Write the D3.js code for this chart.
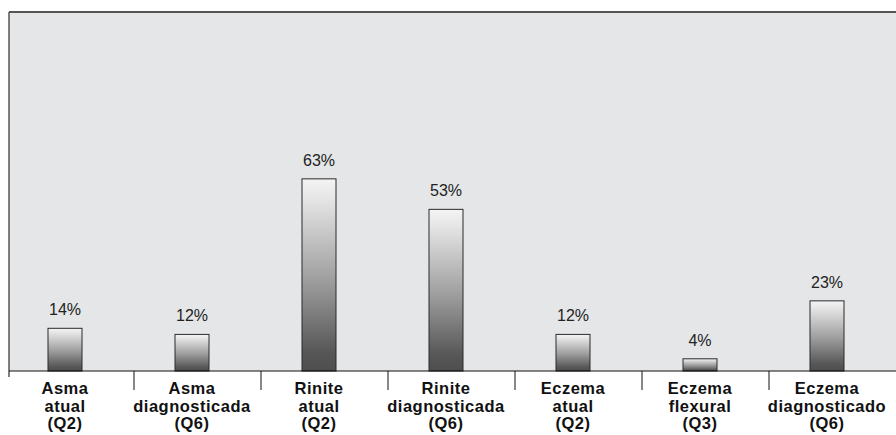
<!DOCTYPE html>
<html>
<head>
<meta charset="utf-8">
<script src="https://cdn.jsdelivr.net/npm/d3@7"></script>
<style>
	body { margin: 0; background: #fff; }
	svg { display: block; font-family: "Liberation Sans", Arial, sans-serif; }
</style>
</head>
<body>
<svg width="896" height="435"></svg>
<script>
"use strict";

const categories = [
	['Asma', 'atual', '(Q2)'],
	['Asma', 'diagnosticada', '(Q6)'],
	['Rinite', 'atual', '(Q2)'],
	['Rinite', 'diagnosticada', '(Q6)'],
	['Eczema', 'atual', '(Q2)'],
	['Eczema', 'flexural', '(Q3)'],
	['Eczema', 'diagnosticado', '(Q6)']
]
const values = [14, 12, 63, 53, 12, 4, 23]

;(function() {
	const svg = d3.select('svg')
	const W = 896, H = 435
	const left = 9, top = 12, base = 371

	const x = d3.scaleBand().domain(d3.range(categories.length)).range([1.5, 890.5]).paddingInner(0)
	const y = d3.scaleLinear().domain([0, 100]).range([base, 66])
	const barW = 34

	const defs = svg.append('defs')
	const grad = defs.append('linearGradient').attr('id', 'barGrad')
		.attr('x1', 0).attr('y1', 0).attr('x2', 0).attr('y2', 1)
	grad.append('stop').attr('offset', '0%').attr('stop-color', '#f4f4f4')
	grad.append('stop').attr('offset', '10%').attr('stop-color', '#e6e6e6')
	grad.append('stop').attr('offset', '55%').attr('stop-color', '#9a9a9a')
	grad.append('stop').attr('offset', '90%').attr('stop-color', '#575757')
	grad.append('stop').attr('offset', '100%').attr('stop-color', '#4e4e4e')

	// plot background + frame
	svg.append('rect').attr('x', left).attr('y', top).attr('width', W - left).attr('height', base - top)
		.attr('fill', '#e5e6e8')
	svg.append('line').attr('x1', left).attr('x2', W).attr('y1', top).attr('y2', top)
		.attr('stroke', '#555').attr('stroke-width', 2)
	svg.append('line').attr('x1', left).attr('x2', left).attr('y1', top).attr('y2', 377)
		.attr('stroke', '#555').attr('stroke-width', 1.5)

	// bars
	svg.selectAll('rect.bar').data(values).enter().append('rect')
		.attr('class', 'bar')
		.attr('x', (d, i) => x(i) + x.bandwidth() / 2 - barW / 2)
		.attr('y', d => y(d))
		.attr('width', barW)
		.attr('height', d => base - y(d))
		.attr('fill', 'url(#barGrad)')
		.attr('stroke', '#2a2a2a')
		.attr('stroke-width', 1)

	svg.selectAll('text.val').data(values).enter().append('text')
		.attr('class', 'val')
		.attr('x', (d, i) => x(i) + x.bandwidth() / 2)
		.attr('y', d => y(d) - 13)
		.attr('text-anchor', 'middle')
		.attr('font-size', 16)
		.attr('fill', '#222')
		.text(d => d + '%')

	// x axis
	svg.append('line').attr('x1', left).attr('x2', W).attr('y1', base).attr('y2', base)
		.attr('stroke', '#111').attr('stroke-width', 1.2)
	svg.selectAll('line.tick').data(d3.range(1, categories.length)).enter().append('line')
		.attr('class', 'tick')
		.attr('x1', d => x(d) + 5.5).attr('x2', d => x(d) + 5.5)
		.attr('y1', base).attr('y2', 390)
		.attr('stroke', '#111').attr('stroke-width', 1)

	const lab = svg.selectAll('text.cat').data(categories).enter().append('text')
		.attr('class', 'cat')
		.attr('text-anchor', 'middle')
		.attr('font-size', 16.5)
		.attr('font-weight', 'bold')
		.attr('letter-spacing', 0.5)
		.attr('fill', '#111')
	lab.selectAll('tspan').data((d, i) => d.map(t => [t, i])).enter().append('tspan')
		.attr('x', d => x(d[1]) + x.bandwidth() / 2)
		.attr('y', (d, j) => 394 + j * 17.5)
		.text(d => d[0])
})()
</script>
</body>
</html>
